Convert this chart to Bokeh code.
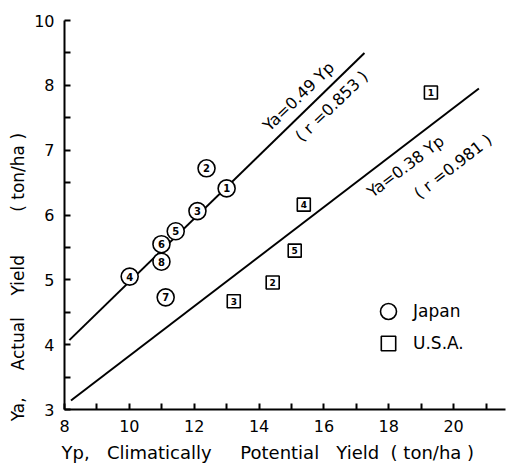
from bokeh.plotting import figure
from bokeh.models import FixedTicker, Label, Legend, LegendItem, ColumnDataSource, Range1d
from bokeh.core.properties import value
from bokeh.embed import file_html
from bokeh.resources import INLINE

# ---- data ----
japan_id = ["1", "2", "3", "4", "5", "6", "7", "8"]
japan_yp = [13.00, 12.38, 12.10, 10.01, 11.43, 10.99, 11.12, 10.99]
japan_ya = [6.41, 6.72, 6.06, 5.05, 5.75, 5.55, 4.73, 5.28]

usa_id = ["1", "2", "3", "4", "5"]
usa_yp = [19.30, 14.42, 13.22, 15.38, 15.10]
usa_ya = [7.89, 4.96, 4.67, 6.16, 5.45]

japan_fit_yp = [8.15, 17.25]
japan_fit_ya = [4.07, 8.50]
usa_fit_yp = [8.2, 20.78]
usa_fit_ya = [3.14, 7.95]

x_major = [8, 10, 12, 14, 16, 18, 20]
x_minor = [9, 11, 13, 15, 17, 19, 21]
y_major = [3, 4, 5, 6, 7, 8, 9]
y_major_labels = ["3", "4", "5", "6", "7", "8", "10"]
y_minor = [3.5, 4.5, 5.5, 6.5, 7.5, 8.5]

FONT = "DejaVu Sans"
NB = "\u00a0"

p = figure(width=509, height=467, output_backend="svg", toolbar_location=None,
           x_range=Range1d(8, 21.6), y_range=Range1d(3, 9),
           min_border_left=64, min_border_right=4, min_border_top=20, min_border_bottom=58)
p.outline_line_color = None
p.xgrid.visible = False
p.ygrid.visible = False
p.background_fill_color = "white"
p.border_fill_color = "white"

for ax in (p.xaxis[0], p.yaxis[0]):
    ax.axis_line_width = 2
    ax.axis_line_color = "black"
    ax.major_tick_in = 6
    ax.major_tick_out = 0
    ax.minor_tick_in = 6
    ax.minor_tick_out = 0
    ax.major_tick_line_width = 2
    ax.minor_tick_line_width = 2
    ax.major_label_text_font = FONT
    ax.major_label_text_font_size = "16px"
    ax.major_label_text_color = "black"
    ax.axis_label_text_font = FONT
    ax.axis_label_text_font_style = "normal"
    ax.axis_label_text_color = "black"

p.xaxis[0].axis_label_text_font_size = "18px"
p.yaxis[0].axis_label_text_font_size = "17px"

p.xaxis[0].ticker = FixedTicker(ticks=x_major, minor_ticks=x_minor)
p.yaxis[0].ticker = FixedTicker(ticks=y_major, minor_ticks=y_minor)
p.yaxis[0].major_label_overrides = {t: l for t, l in zip(y_major, y_major_labels)}
p.xaxis[0].major_label_standoff = 10
p.yaxis[0].major_label_standoff = 10

p.xaxis[0].axis_label = (f"Yp,{NB*3}Climatically{NB*5}Potential{NB*3}Yield{NB*2}({NB}ton/ha{NB})"
                         + NB * 6)
p.xaxis[0].axis_label_standoff = 7
p.yaxis[0].axis_label = (f"Ya,{NB*5}Actual{NB*4}Yield{NB*8}({NB}ton/ha{NB})"
                         + NB * 23)
p.yaxis[0].axis_label_standoff = 3

# regression lines
p.line(japan_fit_yp, japan_fit_ya, line_color="black", line_width=2)
p.line(usa_fit_yp, usa_fit_ya, line_color="black", line_width=2)

# Japan points
jsrc = ColumnDataSource(dict(x=japan_yp, y=japan_ya, t=japan_id))
rj = p.scatter("x", "y", source=jsrc, marker="circle", size=17,
               fill_color="white", line_color="black", line_width=1.6)
p.text("x", "y", text="t", source=jsrc, text_font=value(FONT), text_font_size="10px",
       text_align="center", text_baseline="middle", text_font_style="bold")

# USA points
usrc = ColumnDataSource(dict(x=usa_yp, y=usa_ya, t=usa_id))
ru = p.scatter("x", "y", source=usrc, marker="square", size=13,
               fill_color="white", line_color="black", line_width=1.6)
p.text("x", "y", text="t", source=usrc, text_font=value(FONT), text_font_size="9px",
       text_align="center", text_baseline="middle", text_font_style="bold")

# line annotations
def ann(x, y, txt, ang):
    p.add_layout(Label(x=x, y=y, text=txt, angle=ang, angle_units="deg",
                       text_font=FONT, text_font_size="16px", text_align="center",
                       text_baseline="middle", text_color="black"))

ann(15.22, 7.83, "Ya=0.49 Yp", 44)
ann(16.24, 7.68, "( r =0.853 )", 44)
ann(18.52, 6.75, "Ya=0.38 Yp", 37)
ann(19.98, 6.75, "( r =0.981 )", 38)

# legend (one entry per legend so each symbol gets its own size)
def legend(item, renderer, loc, gsize, standoff):
    lg = Legend(items=[LegendItem(label=item, renderers=[renderer])],
                location=loc, orientation="vertical",
                glyph_width=gsize, glyph_height=gsize, label_standoff=standoff,
                padding=0, margin=0, border_line_color=None, background_fill_alpha=0,
                label_text_font=FONT, label_text_font_size="17px", label_text_color="black")
    p.add_layout(lg)

legend("Japan", rj, (304, 78), 40, 5)
legend("U.S.A.", ru, (306, 48), 36, 7)

open("out.html", "w").write(file_html(p, INLINE))
